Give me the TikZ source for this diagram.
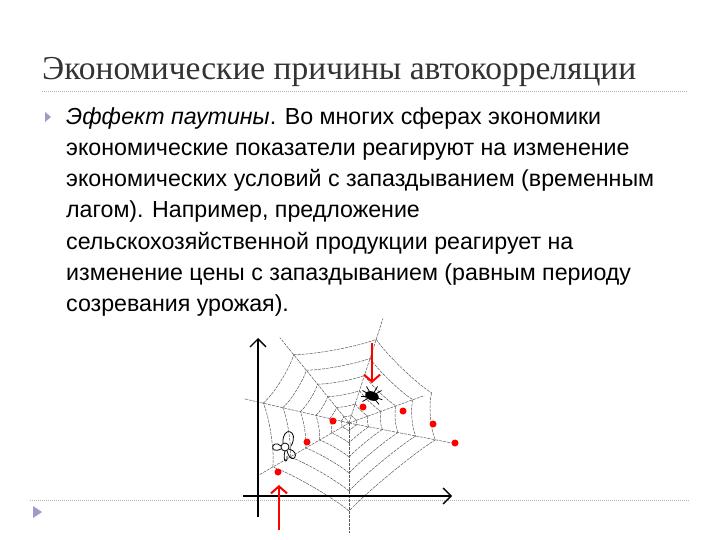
\documentclass[tikz,border=0pt]{standalone}
\usepackage{fontspec}
\setmainfont{Liberation Sans}
\newfontfamily\titlefont{Liberation Serif}
\usetikzlibrary{arrows.meta,calc,shapes.geometric}
\begin{document}
\begin{tikzpicture}[x=1pt,y=-1pt,
  bodytext/.style={anchor=base west,inner sep=0,font=\fontsize{23.2}{24}\selectfont},
  reddot/.style={circle,fill=red,inner sep=0,minimum size=7pt},
  bul/.style={fill=gray!70!blue!60,draw=none},
  web/.style={gray!70!black,line width=0.5pt,dash pattern=on 3pt off 1pt},
  redarrow/.style={red,line width=2pt,-{Straight Barb[length=7pt,width=16pt]}},
  axis/.style={black,line width=1.4pt,-{Straight Barb[length=8pt,width=16pt]}}]
\useasboundingbox[fill=white] (0,0) rectangle (720,540);
\node[anchor=base west,inner sep=0,font=\titlefont\fontsize{33.5}{34}\selectfont,text=black!80] (title) at (42,80) {Экономические причины автокорреляции};
\draw[gray!60,dash pattern=on 1pt off 1pt] (42,91) -- (688,91);
\draw[gray!60,dash pattern=on 1pt off 1pt] (30,500) -- (690,500);
\fill[bul] (45,112) -- (51,117) -- (45,122) -- cycle;
\fill[bul] (33,506) -- (42,512) -- (33,518) -- cycle;
\node[bodytext] (l1) at (66,125) {\textit{Эффект паутины}. Во многих сферах экономики};
\node[bodytext] (l2) at (66,156) {экономические показатели реагируют на изменение};
\node[bodytext] (l3) at (66,187) {экономических условий с запаздыванием (временным};
\node[bodytext] (l4) at (66,218) {лагом). Например, предложение};
\node[bodytext] (l5) at (66,249) {сельскохозяйственной продукции реагирует на};
\node[bodytext] (l6) at (66,280) {изменение цены с запаздыванием (равным периоду};
\node[bodytext] (l7) at (66,311) {созревания урожая).};
% web (angles negated because y axis points down)
\coordinate (c) at (349,423);
\foreach \a/\r in {-72/110,11/108,-20/80,90/110,-210/105,-167/108,-129/110}{
  \draw[web] (c) -- ++(\a:\r);
}
\foreach \r in {8,20,34,50,68,88}{
  \foreach \a/\b in {-72/-20,-20/11,11/90,90/150,150/193,193/231,231/288}{
    \draw[web] ($(c)+(\a:\r)$) .. controls ($(c)+(\a:0.75*\r)+(\b:0.2*\r)$) and ($(c)+(\b:0.75*\r)+(\a:0.2*\r)$) .. ($(c)+(\b:\r)$);
  }
}
\draw[axis] (258,517) -- (258,338);
\draw[axis] (243,496) -- (452,496);
% spider
\node[fill=black,ellipse,minimum width=14pt,minimum height=9pt,inner sep=0,rotate=-20] (spider) at (372,396) {};
\foreach \a in {20,50,150,180,210,240,330,300}{\draw[black,line width=0.8pt] (spider.center) -- ++(\a:11);}
% fly
\node[circle,draw,line width=0.8pt,minimum size=8pt,inner sep=0] (fly) at (285,447) {};
\draw[line width=0.8pt] (fly) ++(-2,-4) .. controls (282,425) and (300,430) .. (291,446);
\draw[line width=0.8pt] (fly) ++(-4,2) .. controls (268,455) and (272,438) .. (281,446);
\draw[line width=0.8pt] (fly) ++(2,4) .. controls (292,468) and (302,452) .. (289,449);
\draw[line width=0.8pt] (fly) ++(0,4) .. controls (282,462) and (288,465) .. (287,456);
% dots
\foreach \x/\y [count=\i] in {278/472,307/442,333/421,363/407,403/411,433/424,455/443}{
  \node[reddot] (d\i) at (\x,\y) {};
}
\coordinate (ta) at (372,343); \coordinate (tb) at (372,383);
\draw[redarrow] (ta) -- (tb);
\coordinate (ua) at (279,530); \coordinate (ub) at (279,485);
\draw[redarrow] (ua) -- (ub);
\end{tikzpicture}
\end{document}
